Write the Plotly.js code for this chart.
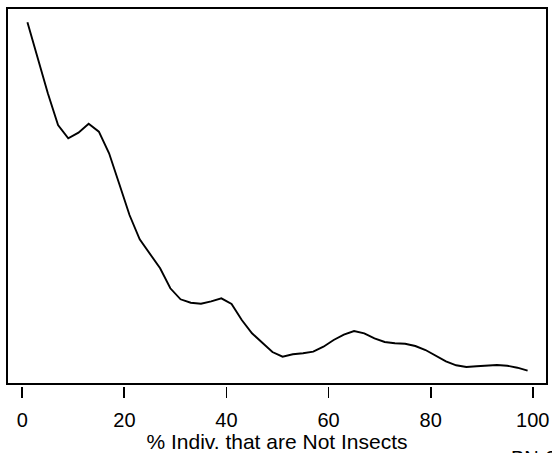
<!DOCTYPE html>
<html>
<head>
<meta charset="utf-8">
<script src="https://cdn.plot.ly/plotly-3.0.1.min.js"></script>
<style>
html,body{margin:0;padding:0;background:#fff;}
#chart{width:552px;height:453px;}
</style>
</head>
<body>
<div id="chart"></div>
<script>
// % individuals that are not insects (x) and curve height (y, arbitrary units)
var pctNotInsects = [1,3,5,7,9,11,13,15,17,19,21,23,25,27,29,31,33,35,37,39,41,43,45,47,49,
                     51,53,55,57,59,61,63,65,67,69,71,73,75,77,79,81,83,85,87,89,91,93,95,97,99];
var density = [36.17,32.63,29.07,25.90,24.57,25.13,26.03,25.23,23.07,20.00,
               16.90,14.47,13.00,11.57,9.57,8.47,8.13,8.03,8.27,8.57,
               8.00,6.40,5.07,4.13,3.20,2.73,2.97,3.07,3.23,3.73,
               4.40,4.93,5.30,5.07,4.57,4.20,4.07,4.03,3.80,3.40,
               2.80,2.27,1.87,1.70,1.77,1.87,1.90,1.83,1.63,1.33];
var xTickVals = [0,20,40,60,80,100];
var xTickText = ['0','20','40','60','80','100'];
var xTitle = '% Indiv. that are Not Insects';
var cornerNote = 'BN-2';

var font = 'Arial, "Liberation Sans", Helvetica, sans-serif';
var plotH = 453 - 8 - 67;
var frameBottom = (386 - 384) / plotH;

var trace = {
  x: pctNotInsects,
  y: density,
  type: 'scatter',
  mode: 'lines',
  line: {color: '#000', width: 1.9},
  hoverinfo: 'skip'
};

var layout = {
  width: 552,
  height: 453,
  margin: {l: 7, r: 5, t: 8, b: 67, pad: 0},
  paper_bgcolor: '#fff',
  plot_bgcolor: '#fff',
  showlegend: false,
  font: {family: font, color: '#000', size: 20},
  xaxis: {
    range: [-3, 102.8],
    anchor: 'free',
    position: 0,
    tickvals: xTickVals,
    ticktext: xTickText,
    ticks: 'outside',
    ticklen: 11,
    tickwidth: 1.8,
    tickcolor: '#000',
    ticklabelstandoff: 5,
    showline: false,
    showgrid: false,
    zeroline: false,
    tickfont: {family: font, size: 20, color: '#000'},
    title: {text: xTitle, font: {family: font, size: 21, color: '#000'}, standoff: 0},
    automargin: false,
    fixedrange: true
  },
  yaxis: {
    domain: [frameBottom, 1],
    range: [0, 37.6],
    showticklabels: false,
    ticks: '',
    showgrid: false,
    zeroline: false,
    showline: false,
    fixedrange: true
  },
  shapes: [{
    type: 'rect',
    xref: 'paper', yref: 'paper',
    x0: 0, x1: 1, y0: frameBottom, y1: 1,
    line: {color: '#000', width: 2},
    fillcolor: 'rgba(0,0,0,0)'
  }],
  annotations: [{
    text: cornerNote,
    xref: 'paper', yref: 'paper',
    x: (509 - 7) / 540, y: (386 - 445) / plotH,
    xanchor: 'left', yanchor: 'top',
    showarrow: false,
    font: {family: font, size: 20, color: '#000'}
  }]
};

Plotly.newPlot('chart', [trace], layout, {displayModeBar: false, staticPlot: true});
</script>
</body>
</html>
